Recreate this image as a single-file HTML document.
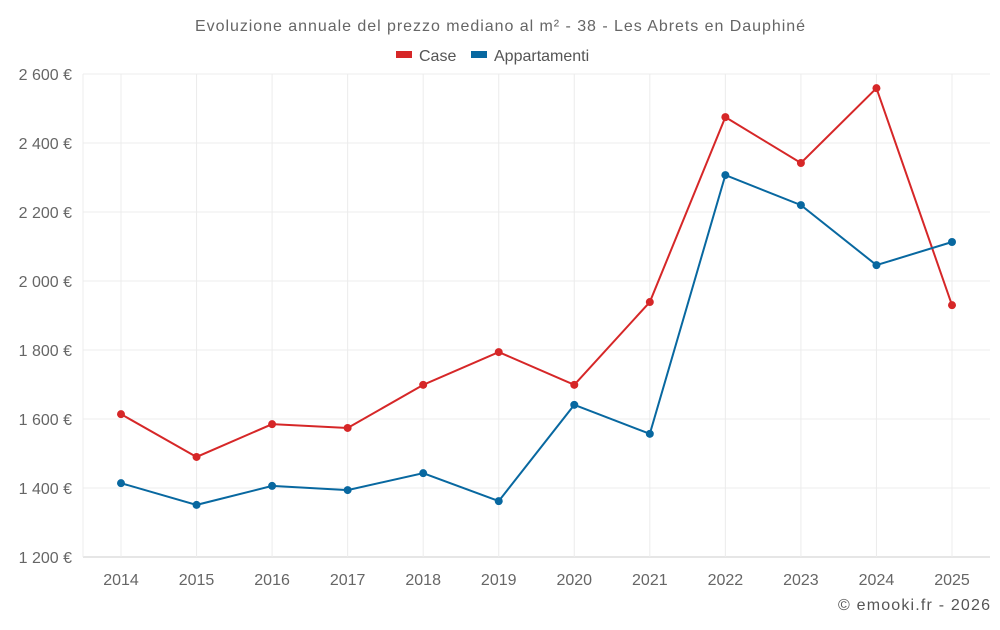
<!DOCTYPE html>
<html><head><meta charset="utf-8"><style>
body{margin:0;background:#fff;font-family:"Liberation Sans",sans-serif;}
svg text{font-family:"Liberation Sans",sans-serif;}
</style></head><body>
<svg id="chart" width="1000" height="625">
<text x="500" y="31" text-anchor="middle" font-size="16" fill="#666" textLength="610">Evoluzione annuale del prezzo mediano al m² - 38 - Les Abrets en Dauphiné</text>
<g><rect x="396" y="51" width="16" height="7" fill="#d62728"/><text x="419" y="61" font-size="16" fill="#555">Case</text></g>
<g><rect x="471" y="51" width="16" height="7" fill="#0868a0"/><text x="494" y="61" font-size="16" fill="#555">Appartamenti</text></g>
<g id="grid"></g><g id="axes"></g><g id="series"></g>
<text x="990" y="610" text-anchor="end" font-size="16" fill="#555" textLength="152">© emooki.fr - 2026</text>
</svg>
<script>
const years=[2014,2015,2016,2017,2018,2019,2020,2021,2022,2023,2024,2025];
const caseVals=[1614,1490,1585,1574,1699,1794,1699,1939,2475,2342,2559,1930];
const appVals=[1414,1351,1406,1394,1443,1362,1641,1557,2307,2220,2046,2113];
const yTicks=[1200,1400,1600,1800,2000,2200,2400,2600];
const yTickLabels=["1 200 €","1 400 €","1 600 €","1 800 €","2 000 €","2 200 €","2 400 €","2 600 €"];
const NS="http://www.w3.org/2000/svg";
const L=83,R=990,T=74,B=557,yMin=1200,yMax=2600;
const x0=121,step=(952-121)/11;
function xs(i){return x0+i*step;}
function ys(v){return B-(v-yMin)/(yMax-yMin)*(B-T);}
function mk(tag,attrs,parent){const e=document.createElementNS(NS,tag);for(const k in attrs)e.setAttribute(k,attrs[k]);parent.appendChild(e);return e;}
const grid=document.getElementById('grid'),axes=document.getElementById('axes'),ser=document.getElementById('series');
yTicks.forEach((t,i)=>{
 const l=mk('line',{x1:L,x2:R,y1:ys(t),y2:ys(t),stroke:i==0?'#ccc':'#ececec'},grid);
 
 
 const tx=mk('text',{x:72,y:ys(t)+6,'text-anchor':'end','font-size':16,fill:'#666'},axes);
 tx.textContent=yTickLabels[i];
 
 
});
mk('line',{x1:L,x2:L,y1:T,y2:B,stroke:'#ececec'},grid);
years.forEach((y,i)=>{
 const l=mk('line',{x1:xs(i),x2:xs(i),y1:T,y2:B,stroke:'#ececec'},grid);
 
 
 const tx=mk('text',{x:xs(i),y:585,'text-anchor':'middle','font-size':16,fill:'#666'},axes);
 tx.textContent=y;
 
 
});
function draw(vals,color,name){
 const p=mk('polyline',{points:vals.map((v,i)=>xs(i)+','+ys(v)).join(' '),fill:'none',stroke:color,'stroke-width':2},ser);
 
 
 vals.forEach((v,i)=>{
  const c=mk('circle',{cx:xs(i),cy:ys(v),r:4,fill:color},ser);
  
  
 });
}
draw(caseVals,'#d62728','case');
draw(appVals,'#0868a0','appartamenti');
</script>
</body></html>
